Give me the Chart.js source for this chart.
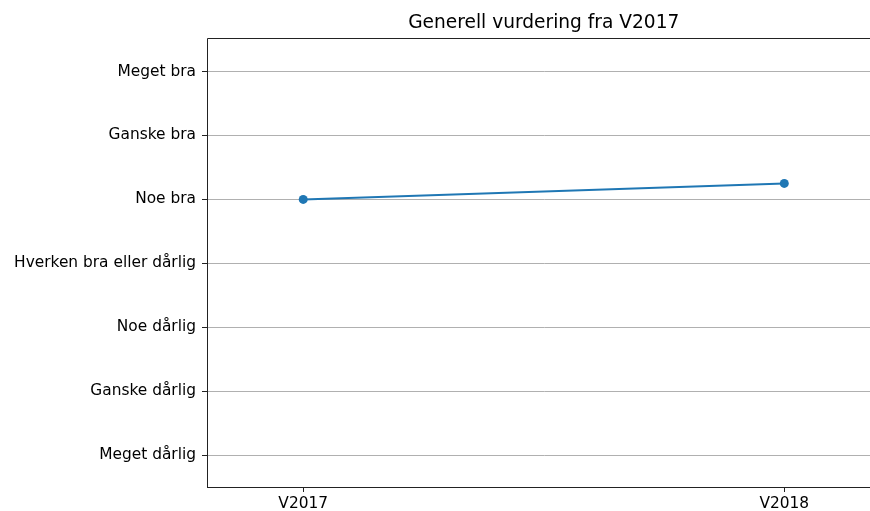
<!DOCTYPE html>
<html>
<head>
<meta charset="utf-8">
<script src="https://cdn.jsdelivr.net/npm/chart.js@4/dist/chart.umd.min.js"></script>
<style>
  html, body { margin: 0; padding: 0; background: #fff; overflow: hidden; }
  #wrap { width: 885px; height: 511px; }
</style>
</head>
<body>
<div id="wrap"><canvas id="chart" width="885" height="511"></canvas></div>
<script>
// Survey periods and the average rating for each
const periods = ['V2017', 'V2018'];
const ratings = [5, 5.25];

// Rating scale, 1 = worst, 7 = best
const scaleLabels = [
    'Meget dårlig',
    'Ganske dårlig',
    'Noe dårlig',
    'Hverken bra eller dårlig',
    'Noe bra',
    'Ganske bra',
    'Meget bra'
];

const FONT = 'DejaVu Sans';
const blue = '#1f77b4';

// draws the top spine (matplotlib style frame, right side is off-canvas)
const topSpine = {
    id: 'topSpine',
    afterDraw(chart) {
        const { ctx, chartArea } = chart;
        const y = Math.floor(chartArea.top) - 0.5;
        const x = Math.floor(chartArea.left) + 0.5;
        ctx.save();
        ctx.strokeStyle = '#222';
        ctx.lineWidth = 1;
        ctx.beginPath();
        ctx.moveTo(x, chartArea.top + 1);
        ctx.lineTo(x, y);
        ctx.lineTo(chartArea.right, y);
        ctx.stroke();
        ctx.restore();
    }
};

new Chart(document.getElementById('chart'), {
    type: 'line',
    data: {
        datasets: [{
            data: periods.map((p, i) => ({ x: i, y: ratings[i] })),
            borderColor: blue,
            backgroundColor: blue,
            borderWidth: 2,
            pointRadius: 4.5,
            pointHoverRadius: 4.5,
            pointBorderWidth: 0,
            tension: 0
        }]
    },
    options: {
        responsive: false,
        animation: false,
        layout: { padding: 0 },
        plugins: {
            legend: { display: false },
            tooltip: { enabled: false },
            title: {
                display: true,
                text: 'Generell vurdering fra V2017',
                fullSize: false,
                color: '#000',
                font: { family: FONT, size: 18.6, weight: 'normal' },
                padding: { top: 12.3, bottom: 5 }
            }
        },
        scales: {
            x: {
                type: 'linear',
                min: -0.2,
                max: 1.2,
                afterBuildTicks: axis => { axis.ticks = periods.map((p, i) => ({ value: i })); },
                afterFit: axis => {
                    axis.height = 24;
                    axis.paddingLeft = 0;
                    axis.paddingRight = 0;
                },
                ticks: {
                    callback: v => periods[v],
                    color: '#000',
                    font: { family: FONT, size: 15.4 },
                    padding: 3,
                    maxRotation: 0
                },
                grid: {
                    drawOnChartArea: false,
                    tickColor: '#222',
                    tickLength: 5
                },
                border: { display: true, color: '#222', width: 1 }
            },
            y: {
                type: 'linear',
                min: 0.5,
                max: 7.5,
                afterBuildTicks: axis => { axis.ticks = scaleLabels.map((l, i) => ({ value: i + 1 })); },
                afterFit: axis => {
                    axis.width = 207;
                    axis.paddingTop = 0;
                    axis.paddingBottom = 0;
                },
                ticks: {
                    callback: v => scaleLabels[v - 1],
                    color: '#000',
                    font: { family: FONT, size: 15.4 },
                    padding: 6
                },
                grid: {
                    color: '#b0b0b0',
                    lineWidth: 1,
                    tickColor: '#222',
                    tickLength: 5
                },
                border: { display: true, color: '#222', width: 1 }
            }
        }
    },
    plugins: [topSpine]
});
</script>
</body>
</html>
